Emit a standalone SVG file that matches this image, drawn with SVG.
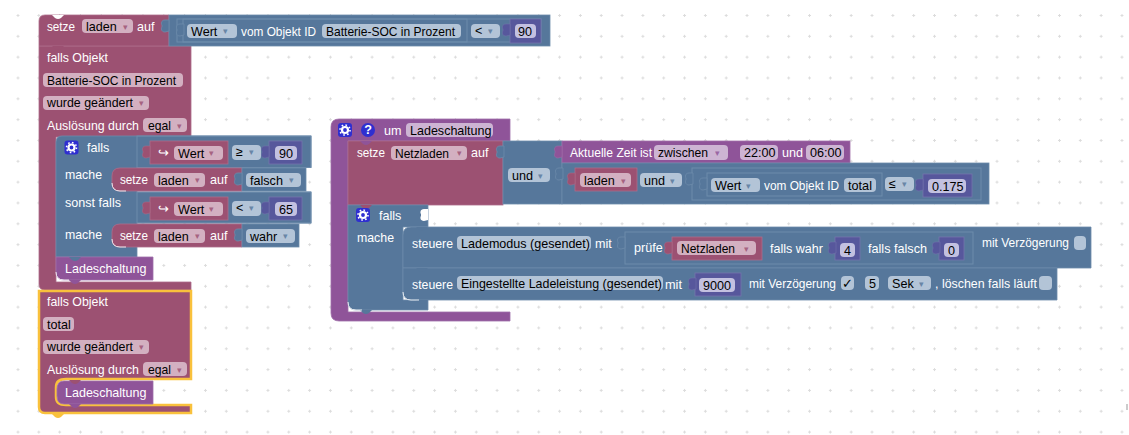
<svg xmlns="http://www.w3.org/2000/svg" width="1129" height="435" viewBox="0 0 1129 435">
<style>
text{font-family:"Liberation Sans",Arial,sans-serif;font-size:12.6px}
.l{fill:#fff}
.t{fill:#000}
.m{fill:#9c5172;stroke:#ad6c8a;stroke-width:.8}
.b{fill:#56779b;stroke:#6d8cab;stroke-width:.8}
.p{fill:#8f5499;stroke:#a06fa9;stroke-width:.8}
.v{fill:#57579c;stroke:#7474ad;stroke-width:.8}
.o{fill:none;stroke:#6d8cab;stroke-width:1}
.fm{fill:#d3b0c1}
.fb{fill:#b3c4d7}
.fp{fill:#cdb4d3}
.fv{fill:#c3c1e0}
.am,.ab,.ap{font-size:9px;opacity:.8}
.am{fill:#9c5172}.ab{fill:#56779b}.ap{fill:#8f5499}
.sel{fill:#9c5172;stroke:#f9c13c;stroke-width:2.5}
.hi{fill:none;stroke:#fff;stroke-width:1;opacity:.85}
.ic{fill:#2f2fd0}
.tb{fill:#56779b;stroke:#6d8cab;stroke-width:.8}
.tm{fill:#9c5172;stroke:#ad6c8a;stroke-width:.5}
.tv{fill:#57579c;stroke:#7474ad;stroke-width:.5}
.tp{fill:#8f5499;stroke:#a06fa9;stroke-width:.5}
</style>
<defs>
<pattern id="grid" x="16.5" y="14" width="20.83" height="20.83" patternUnits="userSpaceOnUse">
<path d="M1.500 0v3M0 1.500h3" stroke="#dcdcdc" stroke-width="1" fill="none"/>
</pattern>
<path id="tab" d="M7 0v11l-4 1c-4 0-4-4-3-5v-2c-1-1-1-5 3-5z"/>
<path id="n" d="M-6 0l3 3q3 2 6 0l3-3z"/>
<g id="gear">
<rect x="-7" y="-7" width="14" height="14" rx="3" class="ic"/>
<circle r="3" fill="none" stroke="#fff" stroke-width="2.2"/>
<circle r="5" fill="none" stroke="#fff" stroke-width="1.6" stroke-dasharray="1.6 2.3"/>
</g>
</defs>
<rect width="1129" height="435" fill="#fff"/>
<rect width="1129" height="435" fill="url(#grid)"/>
<rect x="1126" y="404" width="2" height="6" fill="#ccc"/>

<g id="connectors"></g>

<g id="falls-objekt-1">
<path class="m" d="M39 46H191V137H56V282H191V290H45q-6 0-6-6Z"/>
<text class="l" x="47" y="62" textLength="61" lengthAdjust="spacingAndGlyphs">falls Objekt</text>
<rect class="fm" x="43" y="73" width="140" height="14" rx="4"/>
<text class="t" x="47" y="85" textLength="129" lengthAdjust="spacingAndGlyphs">Batterie-SOC in Prozent</text>
<rect class="fm" x="43" y="96" width="106" height="14" rx="4"/>
<text class="t" x="47" y="107" textLength="86" lengthAdjust="spacingAndGlyphs">wurde geändert</text>
<text class="am" x="139" y="106">▾</text>
<text class="l" x="47" y="130" textLength="92" lengthAdjust="spacingAndGlyphs">Auslösung durch</text>
<rect class="fm" x="143" y="118" width="44" height="14" rx="4"/>
<text class="t" x="148" y="130" textLength="23" lengthAdjust="spacingAndGlyphs">egal</text>
<text class="am" x="177" y="129">▾</text>
</g>

<g id="setze-laden-top">
<path class="m" d="M45 15H169V46H39V21q0-6 6-6Z"/>
<path d="M52 15l3 3q3 2 6 0l3-3z" fill="#fff"/>
<use href="#n" x="58" y="46" fill="#9c5172"/>
<text class="l" x="47" y="31" textLength="28" lengthAdjust="spacingAndGlyphs">setze</text>
<rect class="fm" x="82" y="19" width="51" height="14" rx="4"/>
<text class="t" x="86" y="31">laden</text>
<text class="am" x="123" y="30">▾</text>
<text class="l" x="137" y="31">auf</text>
</g>

<g id="vergleich-top">
<rect class="b" x="169" y="15" width="381" height="31"/>
<use href="#tab" x="162" y="20" class="tb"/>
<rect class="o" x="177" y="19" width="364" height="23"/>
<rect class="o" x="183" y="19" width="284" height="23"/>
<use href="#tab" x="177" y="24" class="tb"/>
<rect class="fb" x="187" y="24" width="50" height="14" rx="4"/>
<text class="t" x="191" y="35.500">Wert</text>
<text class="ab" x="223" y="34">▾</text>
<text class="l" x="241" y="35.500" textLength="75" lengthAdjust="spacingAndGlyphs">vom Objekt ID</text>
<rect class="fb" x="322" y="24" width="139" height="14" rx="4"/>
<text class="t" x="326" y="35.500" textLength="129" lengthAdjust="spacingAndGlyphs">Batterie-SOC in Prozent</text>
<rect class="fb" x="471" y="24" width="29" height="14" rx="4"/>
<text class="t" x="475" y="35">&lt;</text>
<text class="ab" x="488" y="34">▾</text>
<rect class="v" x="510" y="19" width="31" height="24"/>
<use href="#tab" x="503" y="24" class="tv"/>
<rect class="fv" x="515" y="24" width="21" height="14" rx="4"/>
<text class="t" x="518" y="36">90</text>
</g>

<g id="falls-1">
<path class="b" d="M62 136H311V167.500H137V192H311V223H137V257H56V142q0-6 6-6Z"/>
<rect class="o" x="137" y="136" width="174" height="31.500"/>
<rect class="o" x="137" y="192" width="174" height="31"/>
<use href="#gear" x="71.500" y="147.500"/>
<text class="l" x="87" y="152">falls</text>
<text class="l" x="65" y="179" textLength="37" lengthAdjust="spacingAndGlyphs">mache</text>
<text class="l" x="65" y="207" textLength="56" lengthAdjust="spacingAndGlyphs">sonst falls</text>
<text class="l" x="65" y="239" textLength="37" lengthAdjust="spacingAndGlyphs">mache</text>
</g>

<g id="wert-ge-90">
<rect class="m" x="150" y="141" width="78" height="23"/>
<use href="#tab" x="143" y="146" class="tm"/>
<text class="l" x="158" y="157" font-size="14">↪</text>
<rect class="fm" x="174" y="146" width="49" height="14" rx="4"/>
<text class="t" x="178" y="157.500">Wert</text>
<text class="am" x="209" y="156">▾</text>
<rect class="fb" x="232" y="145" width="29" height="15" rx="4"/>
<text class="t" x="236" y="156">≥</text>
<text class="ab" x="249" y="155">▾</text>
<rect class="v" x="269" y="141" width="33" height="23"/>
<use href="#tab" x="262" y="146" class="tv"/>
<rect class="fv" x="275" y="146" width="22" height="14" rx="4"/>
<text class="t" x="279" y="157.500">90</text>
</g>

<g id="setze-falsch">
<path class="m" d="M120 168H242V191H120q-8 0-8-8V176q0-8 8-8Z"/>
<rect class="b" x="242" y="168" width="64" height="23"/>
<use href="#tab" x="235" y="173" class="tb"/>
<text class="l" x="120" y="184" textLength="28" lengthAdjust="spacingAndGlyphs">setze</text>
<rect class="fm" x="154" y="173" width="51" height="14" rx="4"/>
<text class="t" x="158" y="184.500">laden</text>
<text class="am" x="195" y="183">▾</text>
<text class="l" x="210" y="184">auf</text>
<rect class="fb" x="246" y="173" width="55" height="14" rx="4"/>
<text class="t" x="250" y="184.500">falsch</text>
<text class="ab" x="289" y="183">▾</text>
<path class="hi" d="M112 183q0 8 8 8h6"/>
</g>

<g id="wert-lt-65">
<rect class="m" x="150" y="197" width="78" height="23"/>
<use href="#tab" x="143" y="202" class="tm"/>
<text class="l" x="158" y="213" font-size="14">↪</text>
<rect class="fm" x="174" y="202" width="49" height="14" rx="4"/>
<text class="t" x="178" y="213.500">Wert</text>
<text class="am" x="209" y="212">▾</text>
<rect class="fb" x="232" y="201" width="29" height="15" rx="4"/>
<text class="t" x="236" y="212">&lt;</text>
<text class="ab" x="249" y="211">▾</text>
<rect class="v" x="269" y="197" width="33" height="23"/>
<use href="#tab" x="262" y="202" class="tv"/>
<rect class="fv" x="275" y="202" width="22" height="14" rx="4"/>
<text class="t" x="279" y="213.500">65</text>
</g>

<g id="setze-wahr">
<path class="m" d="M120 224H242V247H120q-8 0-8-8V232q0-8 8-8Z"/>
<rect class="b" x="242" y="224" width="57" height="23"/>
<use href="#tab" x="235" y="229" class="tb"/>
<text class="l" x="120" y="240" textLength="28" lengthAdjust="spacingAndGlyphs">setze</text>
<rect class="fm" x="154" y="229" width="51" height="14" rx="4"/>
<text class="t" x="158" y="240.500">laden</text>
<text class="am" x="195" y="239">▾</text>
<text class="l" x="210" y="240">auf</text>
<rect class="fb" x="246" y="229" width="49" height="14" rx="4"/>
<text class="t" x="250" y="240.500">wahr</text>
<text class="ab" x="283" y="239">▾</text>
<path class="hi" d="M112 239q0 8 8 8h6"/>
</g>

<g id="ladeschaltung-1">
<path class="p" d="M56 257H153V280H64q-8 0-8-8Z"/>
<use href="#n" x="75" y="257" fill="#56779b"/>
<use href="#n" x="75" y="280" fill="#8f5499"/>
<text class="l" x="65" y="273" textLength="81.500" lengthAdjust="spacingAndGlyphs">Ladeschaltung</text>
<path class="hi" d="M56 272q0 8 8 8h5"/>
</g>

<g id="falls-objekt-2">
<path class="sel" d="M39 291H191V379H66q-10 0-10 8V397q0 8 10 8H191V413H45q-6 0-6-6Z"/>
<use href="#n" x="58" y="414" fill="#f9c13c"/>
<text class="l" x="47" y="306" textLength="61" lengthAdjust="spacingAndGlyphs">falls Objekt</text>
<rect class="fm" x="43" y="317" width="31" height="14" rx="4"/>
<text class="t" x="47" y="329">total</text>
<rect class="fm" x="43" y="340" width="106" height="14" rx="4"/>
<text class="t" x="47" y="351" textLength="86" lengthAdjust="spacingAndGlyphs">wurde geändert</text>
<text class="am" x="139" y="350">▾</text>
<text class="l" x="47" y="374" textLength="92" lengthAdjust="spacingAndGlyphs">Auslösung durch</text>
<rect class="fm" x="143" y="362" width="44" height="14" rx="4"/>
<text class="t" x="148" y="374" textLength="23" lengthAdjust="spacingAndGlyphs">egal</text>
<text class="am" x="177" y="373">▾</text>
</g>

<g id="ladeschaltung-2">
<path class="p" d="M64 381H153V404H64q-7 0-7-8V389q0-8 7-8Z"/>
<use href="#n" x="75" y="380" fill="#9c5172"/>
<use href="#n" x="75" y="404" fill="#8f5499"/>
<text class="l" x="65" y="397" textLength="81.500" lengthAdjust="spacingAndGlyphs">Ladeschaltung</text>
</g>

<g id="funktion-ladeschaltung">
<path class="p" d="M339 119H510V141H348V312H510V321H339q-8 0-8-8V127q0-8 8-8Z"/>
<use href="#gear" x="345" y="130"/>
<circle class="ic" cx="368" cy="130" r="7"/>
<text x="368" y="134" text-anchor="middle" font-size="11" font-weight="bold" fill="#fff">?</text>
<text class="l" x="384" y="135">um</text>
<rect class="fp" x="406" y="123" width="87" height="14" rx="4"/>
<text class="t" x="410" y="135" textLength="81.500" lengthAdjust="spacingAndGlyphs">Ladeschaltung</text>
</g>

<g id="setze-netzladen">
<rect class="m" x="348" y="141" width="155" height="64"/>
<use href="#n" x="366" y="141" fill="#8f5499"/>
<text class="l" x="357" y="157" textLength="28" lengthAdjust="spacingAndGlyphs">setze</text>
<rect class="fm" x="391" y="146" width="76" height="14" rx="4"/>
<text class="t" x="395" y="157.500" textLength="54" lengthAdjust="spacingAndGlyphs">Netzladen</text>
<text class="am" x="457" y="156">▾</text>
<text class="l" x="471" y="157">auf</text>
</g>

<g id="und-1">
<rect class="b" x="503" y="141" width="59" height="63"/>
<use href="#tab" x="497" y="146" class="tb"/>
<rect class="fb" x="508" y="168" width="42" height="14" rx="4"/>
<text class="t" x="512" y="180">und</text>
<text class="ab" x="538" y="179">▾</text>
</g>

<g id="aktuelle-zeit">
<rect class="p" x="562" y="141" width="288" height="22"/>
<use href="#tab" x="555" y="146" class="tp"/>
<text class="l" x="570" y="157" textLength="82" lengthAdjust="spacingAndGlyphs">Aktuelle Zeit ist</text>
<rect class="fp" x="654" y="145" width="74" height="15" rx="4"/>
<text class="t" x="658" y="157" textLength="50" lengthAdjust="spacingAndGlyphs">zwischen</text>
<text class="ap" x="715" y="156">▾</text>
<rect class="fp" x="740" y="145" width="38" height="15" rx="4"/>
<text class="t" x="744" y="157">22:00</text>
<text class="l" x="782" y="157">und</text>
<rect class="fp" x="806" y="145" width="38" height="15" rx="4"/>
<text class="t" x="810" y="157">06:00</text>
</g>

<g id="und-2">
<rect class="b" x="562" y="163" width="427" height="41"/>
<use href="#tab" x="556" y="168" class="tb"/>
<rect class="m" x="575" y="168" width="62" height="23"/>
<use href="#tab" x="568" y="173" class="tm"/>
<rect class="fm" x="580" y="173" width="51" height="14" rx="4"/>
<text class="t" x="584" y="185">laden</text>
<text class="am" x="621" y="184">▾</text>
<rect class="fb" x="640" y="173" width="42" height="14" rx="4"/>
<text class="t" x="644" y="185">und</text>
<text class="ab" x="670" y="184">▾</text>
<rect class="o" x="692" y="168" width="289" height="32"/>
<use href="#tab" x="686" y="173" class="tb"/>
<rect class="o" x="707" y="173" width="175" height="23"/>
<use href="#tab" x="700" y="178" class="tb"/>
<rect class="fb" x="711" y="178" width="49" height="14" rx="4"/>
<text class="t" x="715" y="190">Wert</text>
<text class="ab" x="746" y="189">▾</text>
<text class="l" x="764" y="190" textLength="75" lengthAdjust="spacingAndGlyphs">vom Objekt ID</text>
<rect class="fb" x="844" y="178" width="32" height="14" rx="4"/>
<text class="t" x="848" y="190" textLength="24" lengthAdjust="spacingAndGlyphs">total</text>
<rect class="fb" x="885" y="177" width="29" height="14" rx="4"/>
<text class="t" x="889" y="188">≤</text>
<text class="ab" x="902" y="187">▾</text>
<rect class="v" x="923" y="174" width="49" height="23"/>
<use href="#tab" x="916" y="179" class="tv"/>
<rect class="fv" x="928" y="179" width="38" height="14" rx="4"/>
<text class="t" x="932" y="190.500">0.175</text>
</g>

<g id="falls-2">
<path class="b" d="M348 205H428V227H403V300H428V310H356q-8 0-8-8Z"/>
<use href="#n" x="366" y="205" fill="#9c5172"/>
<use href="#n" x="366" y="310" fill="#56779b"/>
<use href="#gear" x="363" y="215"/>
<use href="#tab" x="421" y="209" fill="#fff"/>
<text class="l" x="379" y="220">falls</text>
<text class="l" x="357" y="242" textLength="37" lengthAdjust="spacingAndGlyphs">mache</text>
<path class="hi" d="M348 302q0 8 8 8h6"/>
</g>

<g id="steuere-lademodus">
<path class="b" d="M411 227H1091V268H403V235q0-8 8-8Z"/>
<use href="#n" x="422" y="227" fill="#56779b"/>
<text class="l" x="412" y="248" textLength="41" lengthAdjust="spacingAndGlyphs">steuere</text>
<rect class="fb" x="457" y="236" width="134" height="14" rx="4"/>
<text class="t" x="461" y="248" textLength="129" lengthAdjust="spacingAndGlyphs">Lademodus (gesendet)</text>
<text class="l" x="595" y="248">mit</text>
<rect class="o" x="625" y="232" width="348" height="32"/>
<use href="#tab" x="618" y="237" class="tb"/>
<text class="l" x="634" y="252">prüfe</text>
<rect class="m" x="672" y="237" width="90" height="23"/>
<use href="#tab" x="665" y="242" class="tm"/>
<rect class="fm" x="677" y="241" width="79" height="14" rx="4"/>
<text class="t" x="681" y="253" textLength="54" lengthAdjust="spacingAndGlyphs">Netzladen</text>
<text class="am" x="744" y="252">▾</text>
<text class="l" x="770" y="253" textLength="53" lengthAdjust="spacingAndGlyphs">falls wahr</text>
<rect class="v" x="835" y="237" width="25" height="23"/>
<use href="#tab" x="829" y="242" class="tv"/>
<rect class="fv" x="840" y="243" width="15" height="14" rx="4"/>
<text class="t" x="844" y="254.500">4</text>
<text class="l" x="868" y="253" textLength="59" lengthAdjust="spacingAndGlyphs">falls falsch</text>
<rect class="v" x="939" y="237" width="25" height="23"/>
<use href="#tab" x="933" y="242" class="tv"/>
<rect class="fv" x="944" y="243" width="15" height="14" rx="4"/>
<text class="t" x="948" y="254.500">0</text>
<text class="l" x="982" y="247" textLength="87" lengthAdjust="spacingAndGlyphs">mit Verzögerung</text>
<rect class="fb" x="1074" y="236" width="12" height="14" rx="4"/>
</g>

<g id="steuere-ladeleistung">
<path class="b" d="M403 268H1057V300H411q-8 0-8-8Z"/>
<use href="#n" x="422" y="268" fill="#56779b"/>
<use href="#n" x="422" y="300" fill="#56779b"/>
<text class="l" x="412" y="289" textLength="41" lengthAdjust="spacingAndGlyphs">steuere</text>
<rect class="fb" x="457" y="276" width="206" height="14" rx="4"/>
<text class="t" x="461" y="288" textLength="201" lengthAdjust="spacingAndGlyphs">Eingestellte Ladeleistung (gesendet)</text>
<text class="l" x="665" y="289" textLength="17" lengthAdjust="spacingAndGlyphs">mit</text>
<rect class="v" x="695" y="273" width="46" height="23"/>
<use href="#tab" x="689" y="278" class="tv"/>
<rect class="fv" x="699" y="278" width="36" height="14" rx="4"/>
<text class="t" x="703" y="289.500">9000</text>
<text class="l" x="749" y="288" textLength="87" lengthAdjust="spacingAndGlyphs">mit Verzögerung</text>
<rect class="fb" x="841" y="276" width="13" height="14" rx="4"/>
<text class="t" x="842" y="288">✓</text>
<rect class="fb" x="865" y="276" width="14" height="14" rx="4"/>
<text class="t" x="869" y="288">5</text>
<rect class="fb" x="888" y="276" width="43" height="14" rx="4"/>
<text class="t" x="892" y="288">Sek</text>
<text class="ab" x="919" y="287">▾</text>
<text class="l" x="935" y="288" textLength="102" lengthAdjust="spacingAndGlyphs">, löschen falls läuft</text>
<rect class="fb" x="1039" y="276" width="13" height="14" rx="4"/>
<path class="hi" d="M403 292q0 8 8 8h8"/>
</g>
</svg>
